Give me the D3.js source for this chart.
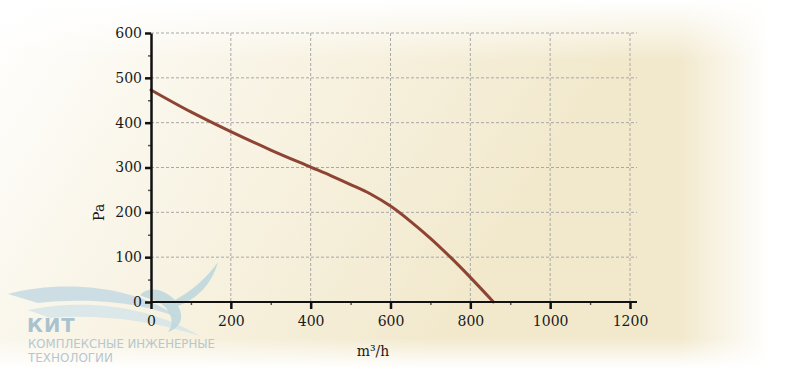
<!DOCTYPE html>
<html>
<head>
<meta charset="utf-8">
<script src="https://cdn.jsdelivr.net/npm/d3@7"></script>
<style>
  body { margin: 0; background: #fff; }
  svg { display: block; }
  .axe path, .axe line { stroke: #111; }
  .axe text { font-family: "DejaVu Serif", serif; font-size: 14px; fill: #1a1a1a; }
</style>
</head>
<body>
<svg class="courbe" width="800" height="375"></svg>
<script>

// débit (m3/h) et pression (Pa)
const debit    = [0, 100, 200, 300, 400, 450, 500, 550, 600, 650, 700, 750, 800, 858];
const pression = [473, 424, 380, 339, 301, 282, 262, 241, 214, 180, 142, 100, 55, 0];

const ticksX = [0, 200, 400, 600, 800, 1000, 1200];
const ticksY = [0, 100, 200, 300, 400, 500, 600];
const mineursX = [100, 300, 500, 700, 900, 1100];
const mineursY = [50, 150, 250, 350, 450, 550];

const titreX = "m³/h";
const titreY = "Pa";

let svg = d3.select(".courbe");

//Fond dégradé
let defs = svg.append("defs");

let gradFond = defs.append("linearGradient")
    .attr("id", "fond").attr("x1", 0).attr("x2", 1).attr("y1", 0).attr("y2", 0.3);
gradFond.append("stop").attr("offset", "0%").attr("stop-color", "#ffffff");
gradFond.append("stop").attr("offset", "30%").attr("stop-color", "#f9f5e8");
gradFond.append("stop").attr("offset", "75%").attr("stop-color", "#f2e9cd");
gradFond.append("stop").attr("offset", "100%").attr("stop-color", "#f2e9cd");

let gradDroite = defs.append("linearGradient")
    .attr("id", "fadeDroite").attr("x1", 0).attr("x2", 1).attr("y1", 0).attr("y2", 0);
gradDroite.append("stop").attr("offset", "0%").attr("stop-color", "#fff").attr("stop-opacity", 0);
gradDroite.append("stop").attr("offset", "100%").attr("stop-color", "#fff").attr("stop-opacity", 1);

let gradBas = defs.append("linearGradient")
    .attr("id", "fadeBas").attr("x1", 0).attr("x2", 0).attr("y1", 0).attr("y2", 1);
gradBas.append("stop").attr("offset", "0%").attr("stop-color", "#fff").attr("stop-opacity", 0);
gradBas.append("stop").attr("offset", "100%").attr("stop-color", "#fff").attr("stop-opacity", 1);

let gradHaut = defs.append("linearGradient")
    .attr("id", "fadeHaut").attr("x1", 0).attr("x2", 0).attr("y1", 0).attr("y2", 1);
gradHaut.append("stop").attr("offset", "0%").attr("stop-color", "#fff").attr("stop-opacity", 1);
gradHaut.append("stop").attr("offset", "100%").attr("stop-color", "#fff").attr("stop-opacity", 0);

svg.append("rect").attr("width", 800).attr("height", 375).attr("fill", "url(#fond)");
svg.append("rect").attr("x", 0).attr("y", 0).attr("width", 800).attr("height", 60).attr("fill", "url(#fadeHaut)");
svg.append("rect").attr("x", 680).attr("y", 0).attr("width", 90).attr("height", 375).attr("fill", "url(#fadeDroite)");
svg.append("rect").attr("x", 770).attr("y", 0).attr("width", 30).attr("height", 375).attr("fill", "#fff");
svg.append("rect").attr("x", 0).attr("y", 338).attr("width", 800).attr("height", 30).attr("fill", "url(#fadeBas)");
svg.append("rect").attr("x", 0).attr("y", 368).attr("width", 800).attr("height", 7).attr("fill", "#fff");

//Logo en filigrane
let logo = svg.append("g").attr("class", "logo");
logo.append("path")
  .attr("d", "M8,294 C60,280 135,284 182,320 C150,303 90,297 38,303 Z")
  .attr("fill", "#c6dbe3").attr("opacity", 0.9);
logo.append("path")
  .attr("d", "M28,310 C85,298 150,306 200,336 C150,319 92,314 50,318 Z")
  .attr("fill", "#d3e4e8").attr("opacity", 0.8);
logo.append("path")
  .attr("d", "M140,295 C150,285 165,290 175,300 C190,292 205,280 218,262 C212,285 195,300 178,306 C185,318 180,328 168,332 C176,322 170,308 158,302 C150,298 145,298 140,295 Z")
  .attr("fill", "#bcd6dc").attr("opacity", 0.85);
logo.append("text")
  .attr("x", 27).attr("y", 332)
  .style("font-family", "'DejaVu Sans', sans-serif")
  .style("font-weight", "bold").style("font-size", "19.5px")
  .style("letter-spacing", "1px")
  .style("fill", "#a9c2cf")
  .text("КИТ");

logo.append("text")
  .attr("x", 28).attr("y", 348)
  .attr("textLength", 187).attr("lengthAdjust", "spacingAndGlyphs")
  .style("font-family", "'DejaVu Sans', sans-serif")
  .style("font-size", "11.5px").style("fill", "#b7c7ce")
  .text("КОМПЛЕКСНЫЕ ИНЖЕНЕРНЫЕ");
logo.append("text")
  .attr("x", 28).attr("y", 362)
  .attr("textLength", 85).attr("lengthAdjust", "spacingAndGlyphs")
  .style("font-family", "'DejaVu Sans', sans-serif")
  .style("font-size", "11.5px").style("fill", "#b7c7ce")
  .text("ТЕХНОЛОГИИ");

//Échelles
let x = d3.scaleLinear().domain([0, 1200]).range([151, 630]);
let y = d3.scaleLinear().domain([0, 600]).range([302, 33]);

//Grille
let grille = svg.append("g").attr("class", "grille")
  .style("stroke", "#a8a8a8").style("stroke-width", 1).style("stroke-dasharray", "3,2");

grille.selectAll("line.v")
  .data(ticksX.filter(d => d > 0))
  .enter().append("line")
  .attr("class", "v")
  .attr("x1", d => x(d)).attr("x2", d => x(d))
  .attr("y1", y(600)).attr("y2", y(0));

grille.selectAll("line.h")
  .data(ticksY.filter(d => d > 0))
  .enter().append("line")
  .attr("class", "h")
  .attr("x1", x(0)).attr("x2", 637)
  .attr("y1", d => y(d)).attr("y2", d => y(d));

//Courbe
let ligne = d3.line()
  .x((d, i) => x(debit[i]))
  .y(d => y(d))
  .curve(d3.curveCatmullRom.alpha(0.5));

svg.append("path")
  .datum(pression)
  .attr("d", ligne)
  .attr("fill", "none")
  .attr("stroke", "#8e4433")
  .attr("stroke-width", 3)
  .attr("stroke-linecap", "round");

//Axes
svg.append("g").attr("class", "axe")
  .attr("transform", `translate(0,${y(0)})`)
  .call(d3.axisBottom(x).tickValues(mineursX).tickSize(3).tickFormat(""))
  .call(g => g.select(".domain").remove())
  .selectAll("line").style("stroke", "#555").style("stroke-width", 1.5);

svg.append("g").attr("class", "axe")
  .attr("transform", `translate(${x(0)},0)`)
  .call(d3.axisLeft(y).tickValues(mineursY).tickSize(3).tickFormat(""))
  .call(g => g.select(".domain").remove())
  .selectAll("line").style("stroke", "#555").style("stroke-width", 1.5);

let axeX = svg.append("g").attr("class", "axe")
  .attr("transform", `translate(0,${y(0)})`)
  .call(d3.axisBottom(x).tickValues(ticksX).tickFormat(d3.format("d"))
        .tickSize(7).tickSizeOuter(0).tickPadding(7));
axeX.select(".domain").attr("d", `M${x(0)},0H637`).style("stroke-width", 2);
axeX.selectAll(".tick line").style("stroke-width", 2.5);

let axeY = svg.append("g").attr("class", "axe")
  .attr("transform", `translate(${x(0)},0)`)
  .call(d3.axisLeft(y).tickValues(ticksY).tickFormat(d3.format("d"))
        .tickSize(6).tickSizeOuter(0).tickPadding(3));
axeY.select(".domain").style("stroke-width", 2.5);
axeY.selectAll(".tick line").style("stroke-width", 2.5);

//Titres des axes
svg.append("text")
  .attr("x", 373).attr("y", 356)
  .attr("text-anchor", "middle")
  .style("font-family", "'DejaVu Serif', serif")
  .style("font-size", "14px")
  .style("fill", "#1a1a1a")
  .text(titreX);

svg.append("text")
  .attr("transform", `translate(104,${y(200)}) rotate(-90)`)
  .attr("text-anchor", "middle")
  .style("font-family", "'DejaVu Serif', serif")
  .style("font-size", "14px")
  .style("fill", "#1a1a1a")
  .text(titreY);

</script>
</body>
</html>
